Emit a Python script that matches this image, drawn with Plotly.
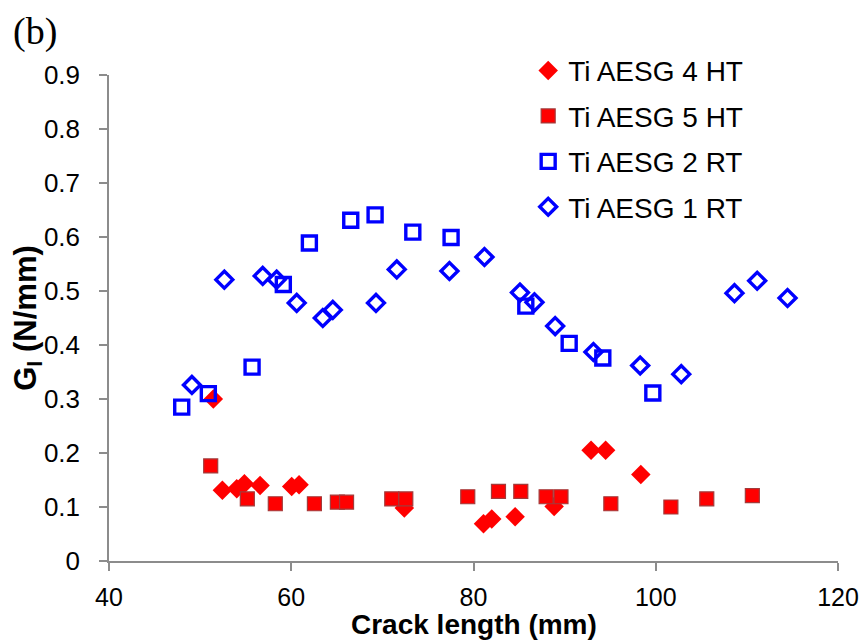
import plotly.graph_objects as go

# Ti AESG 4 HT (red filled diamonds)
x_4ht = [51.45, 52.44, 54.02, 54.86, 56.58, 60.05, 60.86, 72.41, 81.1, 82.0, 84.57, 88.85, 92.9, 94.5, 98.36]
y_4ht = [0.300, 0.131, 0.134, 0.143, 0.140, 0.138, 0.141, 0.098, 0.069, 0.078, 0.082, 0.101, 0.205, 0.205, 0.160]

# Ti AESG 5 HT (red filled squares)
x_5ht = [51.16, 55.18, 58.25, 62.54, 65.06, 66.07, 71.03, 72.57, 79.37, 82.74, 85.19, 87.97, 89.6, 95.07, 101.66, 105.6, 110.6]
y_5ht = [0.176, 0.115, 0.106, 0.106, 0.109, 0.109, 0.115, 0.115, 0.119, 0.129, 0.129, 0.119, 0.119, 0.106, 0.100, 0.115, 0.121]

# Ti AESG 2 RT (blue open squares)
x_2rt = [47.98, 50.9, 55.7, 59.13, 61.99, 66.53, 69.2, 73.34, 77.54, 85.74, 90.5, 94.19, 99.68]
y_2rt = [0.285, 0.310, 0.359, 0.512, 0.589, 0.631, 0.641, 0.609, 0.599, 0.472, 0.403, 0.376, 0.311]

# Ti AESG 1 RT (blue open diamonds)
x_1rt = [49.1, 52.66, 56.87, 58.4, 60.6, 63.46, 64.56, 69.3, 71.58, 77.36, 81.2, 85.1, 86.69, 88.96, 93.16, 98.29, 102.8, 108.64, 111.13, 114.46]
y_1rt = [0.326, 0.521, 0.528, 0.521, 0.478, 0.450, 0.465, 0.478, 0.540, 0.537, 0.563, 0.497, 0.479, 0.435, 0.387, 0.362, 0.346, 0.496, 0.519, 0.487]

x_ticks = [40, 60, 80, 100, 120]
y_ticks = [0, 0.1, 0.2, 0.3, 0.4, 0.5, 0.6, 0.7, 0.8, 0.9]
y_tick_text = ["0", "0.1", "0.2", "0.3", "0.4", "0.5", "0.6", "0.7", "0.8", "0.9"]

fig = go.Figure()
fig.add_trace(go.Scatter(
    x=x_4ht, y=y_4ht, mode="markers", name="Ti AESG 4 HT", legendgroup="a",
    marker=dict(symbol="diamond", size=15, color="#ff0000", line=dict(width=0))))
fig.add_trace(go.Scatter(
    x=x_5ht, y=y_5ht, mode="markers", name="Ti AESG 5 HT", legendgroup="b",
    marker=dict(symbol="square", size=14, color="#ff0000", line=dict(width=1.2, color="#a33a3a"))))
fig.add_trace(go.Scatter(
    x=x_2rt, y=y_2rt, mode="markers", name="Ti AESG 2 RT", legendgroup="c",
    marker=dict(symbol="square-open", size=14, color="#0000ff", line=dict(width=3.4, color="#0000ff"))))
fig.add_trace(go.Scatter(
    x=x_1rt, y=y_1rt, mode="markers", name="Ti AESG 1 RT", legendgroup="d",
    marker=dict(symbol="diamond-open", size=13, color="#0000ff", line=dict(width=3.4, color="#0000ff"))))

AX_COLOR = "#8c8c8c"
fig.update_layout(
    width=859, height=635,
    paper_bgcolor="white", plot_bgcolor="white",
    margin=dict(l=101, r=29, t=67, b=82, autoexpand=False),
    font=dict(family="Liberation Sans, Arial", color="black"),
    showlegend=True,
    legend=dict(
        x=0.575, y=1.06, xanchor="left", yanchor="top",
        font=dict(size=28, family="Liberation Sans, Arial"),
        tracegroupgap=6, itemsizing="trace",
        bgcolor="rgba(0,0,0,0)",
    ),
    xaxis=dict(
        range=[40, 120], tickvals=x_ticks, ticktext=[str(v) for v in x_ticks],
        showgrid=False, zeroline=False, showline=True, linecolor=AX_COLOR, linewidth=1.5,
        ticks="outside", ticklen=8, tickcolor=AX_COLOR, tickwidth=1.5,
        ticklabelstandoff=5,
        tickfont=dict(size=25, family="Liberation Sans, Arial"),
    ),
    yaxis=dict(
        range=[0, 0.9], tickvals=y_ticks, ticktext=y_tick_text,
        showgrid=False, zeroline=False, showline=True, linecolor=AX_COLOR, linewidth=1.5,
        ticks="outside", ticklen=8, tickcolor=AX_COLOR, tickwidth=1.5,
        ticklabelstandoff=14,
        tickfont=dict(size=26, family="Liberation Sans, Arial"),
        title=dict(text="<b>G<sub>I</sub> (N/mm)</b>", standoff=2,
                   font=dict(size=31, family="Liberation Sans, Arial")),
    ),
    annotations=[
        dict(
            text="(b)", x=-0.135, y=1.138, xref="paper", yref="paper",
            xanchor="left", yanchor="top", showarrow=False,
            font=dict(size=38, family="Liberation Serif, Times New Roman", color="black"),
        ),
        dict(
            text="<b>Crack length (mm)</b>", x=0.5, y=-0.131, xref="paper", yref="paper",
            xanchor="center", yanchor="middle", showarrow=False,
            font=dict(size=28, family="Liberation Sans, Arial", color="black"),
        ),
    ],
)

fig.write_html("out.html")
